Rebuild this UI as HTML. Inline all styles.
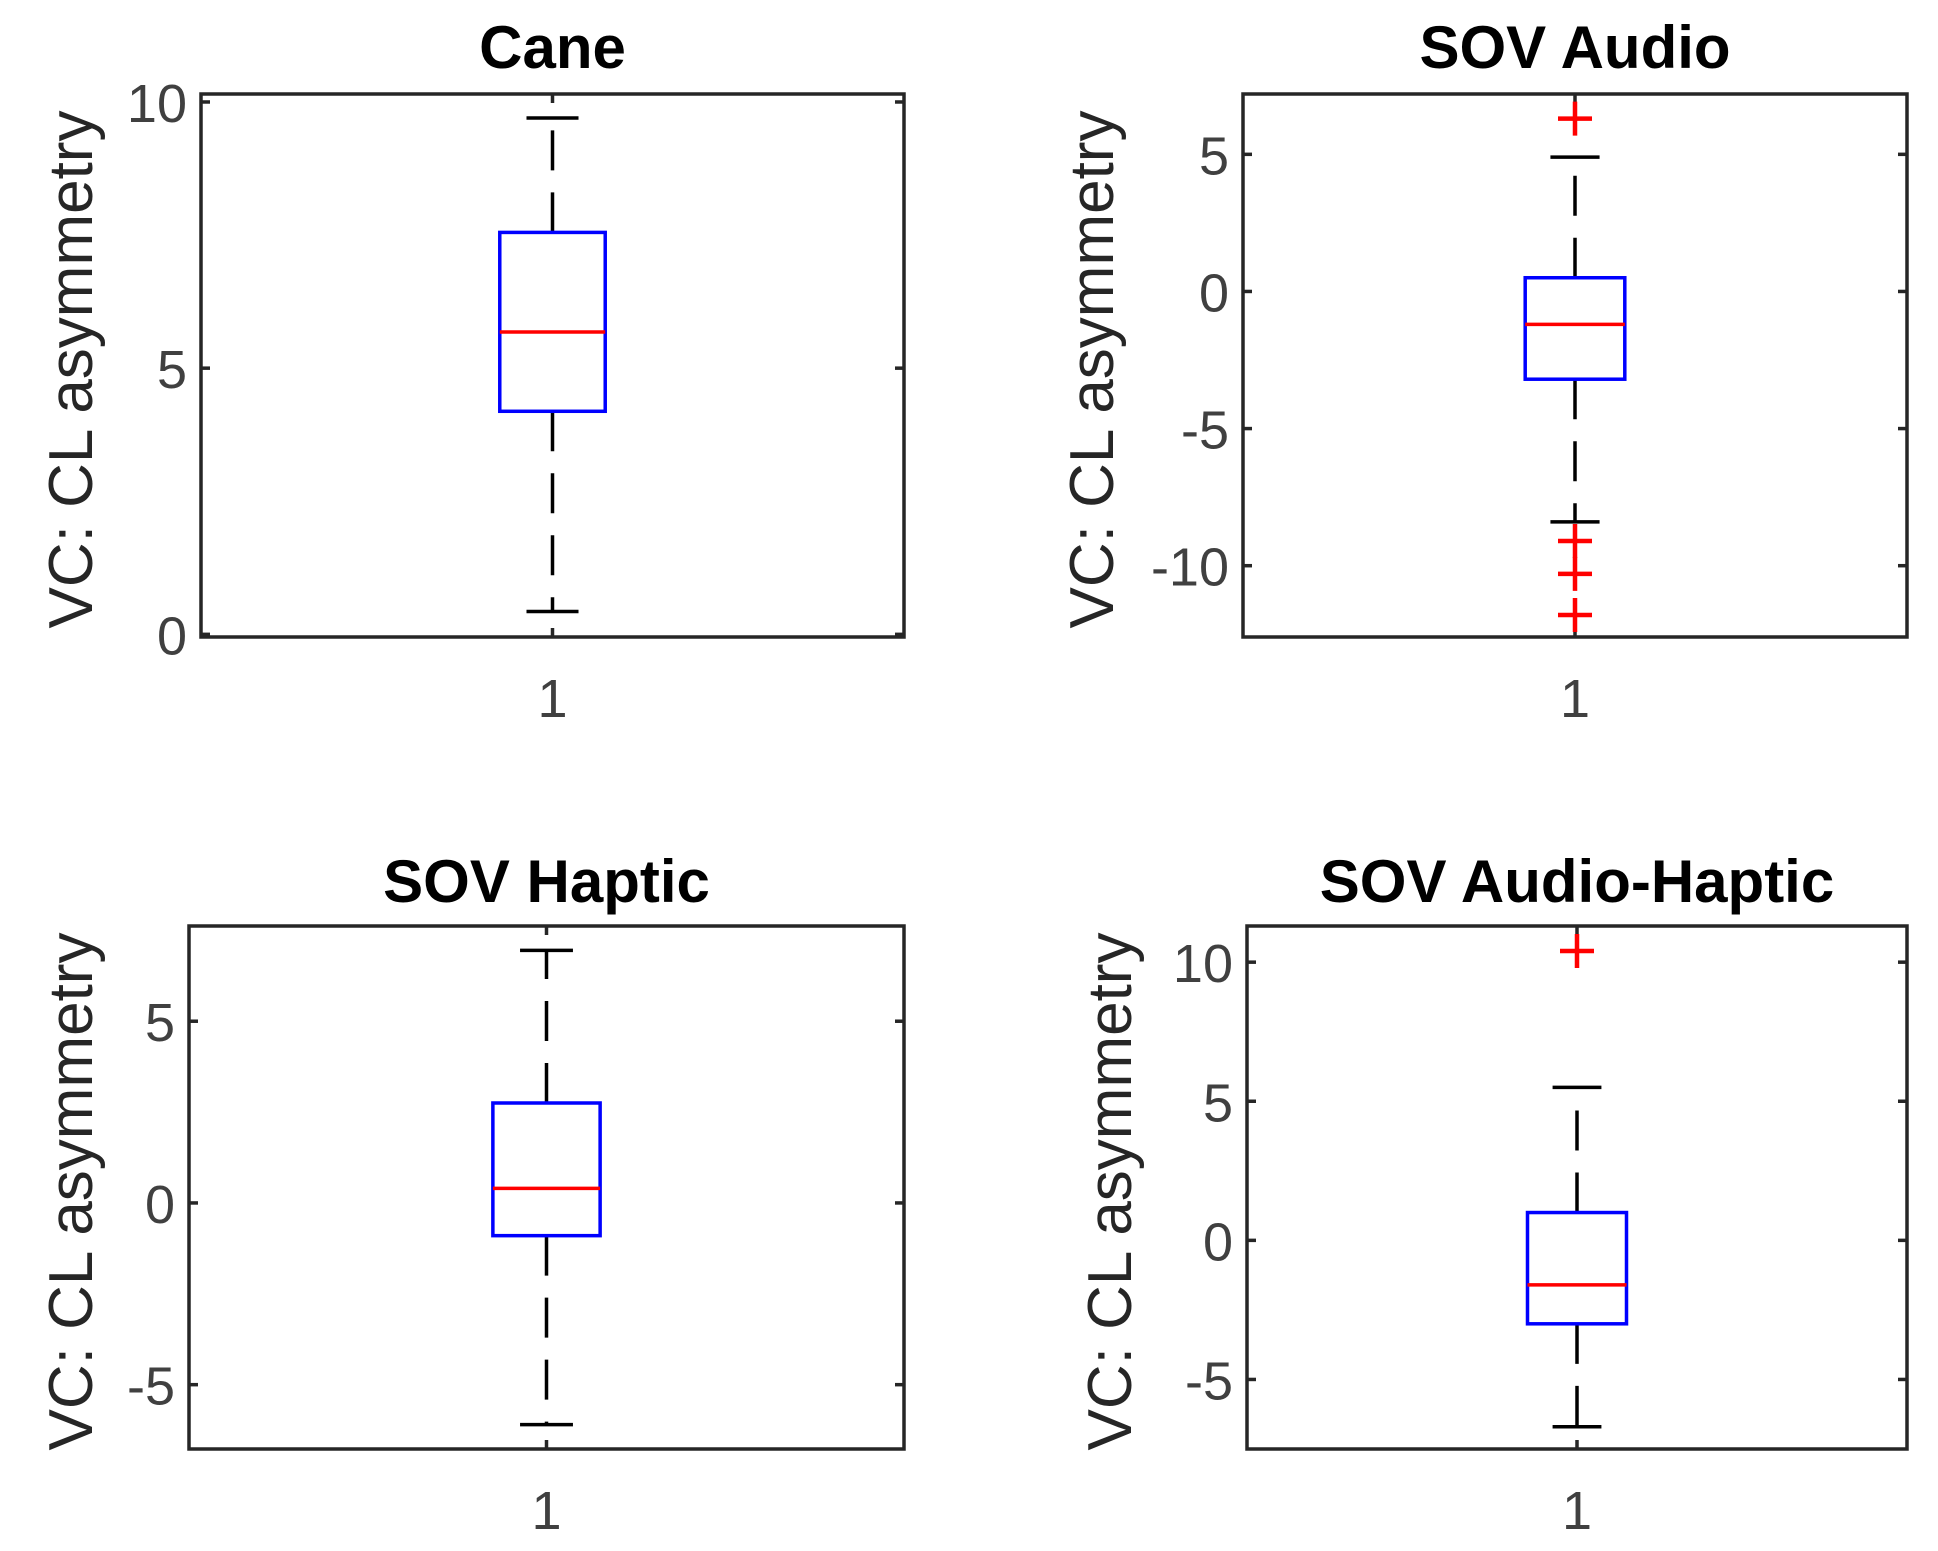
<!DOCTYPE html>
<html><head><meta charset="utf-8"><style>
html,body{margin:0;padding:0;background:#fff;}
svg{display:block;font-family:"Liberation Sans",Arial,sans-serif;}
</style></head><body>
<svg id="fig" width="1938" height="1551" viewBox="0 0 1938 1551" xmlns="http://www.w3.org/2000/svg"></svg>
<script>
const titles = ["Cane","SOV Audio","SOV Haptic","SOV Audio-Haptic"];
const whiskerHigh = [9.7, 4.9, 6.95, 5.5];
const q3Values = [7.55, 0.5, 2.75, 1.0];
const medians = [5.68, -1.2, 0.4, -1.6];
const q1Values = [4.19, -3.2, -0.9, -3.0];
const whiskerLow = [0.43, -8.4, -6.1, -6.7];
const outliers = [[], [6.3, -9.1, -10.3, -11.8], [], [10.4]];
const yTicks = [[0,5,10],[-10,-5,0,5],[-5,0,5],[-5,0,5,10]];
const yLims = [[-0.05,10.15],[-12.6,7.2],[-6.77,7.62],[-7.5,11.3]];
const xTickLabels = ["1"];

const panels = [
  {l:201,r:904,t:94,b:637,ylb:92,tt:47},
  {l:1243,r:1907,t:94,b:637,ylb:1113,tt:47},
  {l:189,r:904,t:926,b:1449,ylb:92,tt:881},
  {l:1247,r:1907,t:926,b:1449,ylb:1131,tt:881}
];
const NS="http://www.w3.org/2000/svg";
const svg=document.getElementById('fig');
function mk(tag,attrs,parent){const e=document.createElementNS(NS,tag);for(const k in attrs)e.setAttribute(k,attrs[k]);(parent||svg).appendChild(e);return e;}

panels.forEach((p,i)=>{
  const g=mk('g',{});
  
  
  const [y0,y1]=yLims[i];
  const ys=v=>p.b-(v-y0)/(y1-y0)*(p.b-p.t);
  const xs=v=>p.l+(v-0.5)*(p.r-p.l);
  const cx=xs(1);
  const box=mk('rect',{x:p.l,y:p.t,width:p.r-p.l,height:p.b-p.t,fill:'none',stroke:'#262626','stroke-width':3.5},g);
  
  
  yTicks[i].forEach(v=>{
    const y=ys(v);
    mk('line',{x1:p.l,x2:p.l+9,y1:y,y2:y,stroke:'#262626','stroke-width':3.5},g);
    mk('line',{x1:p.r,x2:p.r-9,y1:y,y2:y,stroke:'#262626','stroke-width':3.5},g);
    const t=mk('text',{x:p.l-14,y:y+20,'text-anchor':'end','font-size':54,fill:'#404040'},g);
    t.textContent=String(v);
    
    
  });
  mk('line',{x1:cx,x2:cx,y1:p.b,y2:p.b-9,stroke:'#262626','stroke-width':3.5},g);
  mk('line',{x1:cx,x2:cx,y1:p.t,y2:p.t+9,stroke:'#262626','stroke-width':3.5},g);
  const xt=mk('text',{x:cx,y:p.b+80,'text-anchor':'middle','font-size':54,fill:'#404040'},g);
  xt.textContent=xTickLabels[0];
  
  
  const tt=mk('text',{x:(p.l+p.r)/2,y:p.tt+21,'text-anchor':'middle','font-size':60,'font-weight':'bold',fill:'#000'},g);
  tt.textContent=titles[i];
  
  
  const yc=(p.t+p.b)/2+4;
  const yl=mk('text',{x:0,y:0,'text-anchor':'middle','font-size':62,fill:'#262626',transform:`translate(${p.ylb},${yc}) rotate(-90)`},g);
  yl.textContent='VC: CL asymmetry';
  
  
  const bw=(p.r-p.l)*0.15, cw=(p.r-p.l)*0.074;
  const w1=mk('line',{x1:cx,x2:cx,y1:ys(q3Values[i]),y2:ys(whiskerHigh[i]),stroke:'#000','stroke-width':3.5,'stroke-dasharray':'40 22'},g);
  
  
  const w2=mk('line',{x1:cx,x2:cx,y1:ys(q1Values[i]),y2:ys(whiskerLow[i]),stroke:'#000','stroke-width':3.5,'stroke-dasharray':'40 22'},g);
  
  
  [whiskerHigh[i],whiskerLow[i]].forEach(v=>{
    const c=mk('line',{x1:cx-cw/2,x2:cx+cw/2,y1:ys(v),y2:ys(v),stroke:'#000','stroke-width':3.5},g);
    
    
  });
  const b=mk('rect',{x:cx-bw/2,y:ys(q3Values[i]),width:bw,height:ys(q1Values[i])-ys(q3Values[i]),fill:'none',stroke:'#0000ff','stroke-width':3.5},g);
  
  
  const m=mk('line',{x1:cx-bw/2,x2:cx+bw/2,y1:ys(medians[i]),y2:ys(medians[i]),stroke:'#ff0000','stroke-width':3.5},g);
  
  
  outliers[i].forEach(v=>{
    const y=ys(v);
    const o=mk('path',{d:`M${cx-17},${y}H${cx+17}M${cx},${y-17}V${y+17}`,stroke:'#ff0000','stroke-width':4.5,fill:'none'},g);
    
    
  });
});
</script>
</body></html>
